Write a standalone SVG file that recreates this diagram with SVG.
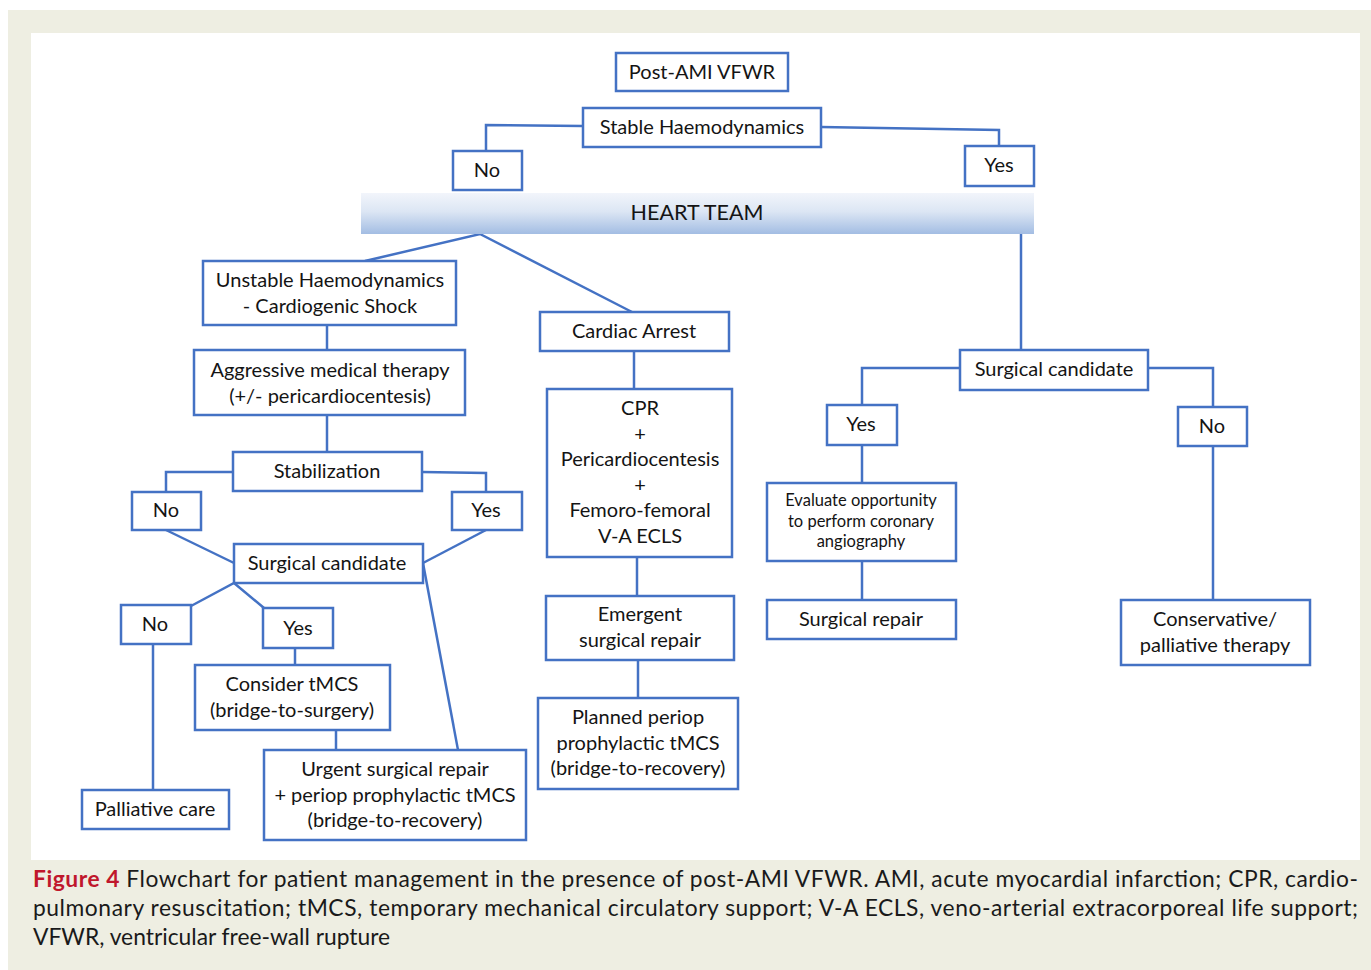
<svg xmlns="http://www.w3.org/2000/svg" width="1371" height="970" viewBox="0 0 1371 970">
<defs>
<linearGradient id="bar" x1="0" y1="0" x2="0" y2="1">
<stop offset="0" stop-color="#f2f5fb"/>
<stop offset="0.45" stop-color="#dce6f4"/>
<stop offset="1" stop-color="#a3bde3"/>
</linearGradient>
<style>
.box{fill:#ffffff;stroke:#4472c4;stroke-width:2.5}
.ln{fill:none;stroke:#4472c4;stroke-width:2.5}
.t{font-family:Lato,"Liberation Sans",sans-serif;font-size:20px;fill:#141414;text-anchor:middle}
.s{font-size:16.5px}
.cap{font-family:Lato,"Liberation Sans",sans-serif;font-size:22.8px;fill:#1a1a1a}
</style>
</defs>
<rect x="0" y="0" width="1371" height="970" fill="#ffffff"/>
<rect x="8" y="10" width="1363" height="960" fill="#eeeee2"/>
<rect x="31" y="33" width="1329" height="827" fill="#ffffff"/>

<g id="connectors">
<polyline class="ln" points="583,126 486,125 486,151"/>
<polyline class="ln" points="821,127 999,130 999,146"/>
<line class="ln" x1="1021" y1="234" x2="1021" y2="350"/>
<polyline class="ln" points="365,261 480,234 632,312"/>
<line class="ln" x1="327" y1="326" x2="327" y2="350"/>
<line class="ln" x1="327" y1="415" x2="327" y2="452"/>
<polyline class="ln" points="233,472 166,472 166,492"/>
<polyline class="ln" points="422,472 486,473 486,492"/>
<line class="ln" x1="166" y1="530" x2="234" y2="563"/>
<line class="ln" x1="486" y1="530" x2="423" y2="563"/>
<line class="ln" x1="423" y1="563" x2="458" y2="750"/>
<polyline class="ln" points="191,606 234,583 264,608"/>
<line class="ln" x1="153" y1="644" x2="153" y2="790"/>
<line class="ln" x1="295" y1="648" x2="295" y2="665"/>
<line class="ln" x1="336" y1="730" x2="336" y2="750"/>
<line class="ln" x1="634" y1="351" x2="634" y2="389"/>
<line class="ln" x1="637" y1="557" x2="637" y2="596"/>
<line class="ln" x1="638" y1="660" x2="638" y2="698"/>
<polyline class="ln" points="960,368 862,368 862,405"/>
<polyline class="ln" points="1148,368 1213,368 1213,407"/>
<line class="ln" x1="862" y1="445" x2="862" y2="483"/>
<line class="ln" x1="862" y1="561" x2="862" y2="600"/>
<line class="ln" x1="1213" y1="446" x2="1213" y2="600"/>
</g>

<g id="post-ami"><rect class="box" x="616" y="53" width="172" height="38"/><text class="t" x="702" y="79">Post-AMI VFWR</text></g>
<g id="stable"><rect class="box" x="583" y="108" width="238" height="39"/><text class="t" x="702" y="134">Stable Haemodynamics</text></g>
<g id="no-top"><rect class="box" x="453" y="151" width="69" height="39"/><text class="t" x="487" y="177">No</text></g>
<g id="yes-top"><rect class="box" x="965" y="146" width="69" height="40"/><text class="t" x="999" y="172">Yes</text></g>
<g id="heart-team"><rect x="361" y="193" width="673" height="41" fill="url(#bar)"/><text class="t" x="697" y="220" style="font-size:21.5px">HEART TEAM</text></g>

<g id="unstable"><rect class="box" x="203" y="261" width="253" height="64"/><text class="t" x="330" y="287">Unstable Haemodynamics</text><text class="t" x="330" y="313">- Cardiogenic Shock</text></g>
<g id="aggressive"><rect class="box" x="194" y="350" width="271" height="65"/><text class="t" x="330" y="377">Aggressive medical therapy</text><text class="t" x="330" y="403">(+/- pericardiocentesis)</text></g>
<g id="stabilization"><rect class="box" x="233" y="452" width="189" height="39"/><text class="t" x="327" y="478">Stabilization</text></g>
<g id="stab-no"><rect class="box" x="132" y="492" width="69" height="38"/><text class="t" x="166" y="517">No</text></g>
<g id="stab-yes"><rect class="box" x="452" y="492" width="70" height="38"/><text class="t" x="486" y="517">Yes</text></g>
<g id="surg-cand-left"><rect class="box" x="234" y="544" width="189" height="39"/><text class="t" x="327" y="570">Surgical candidate</text></g>
<g id="sc-no"><rect class="box" x="121" y="605" width="70" height="39"/><text class="t" x="155" y="631">No</text></g>
<g id="sc-yes"><rect class="box" x="263" y="608" width="70" height="40"/><text class="t" x="298" y="635">Yes</text></g>
<g id="consider"><rect class="box" x="195" y="665" width="195" height="65"/><text class="t" x="292" y="691">Consider tMCS</text><text class="t" x="292" y="717">(bridge-to-surgery)</text></g>
<g id="palliative"><rect class="box" x="82" y="790" width="147" height="39"/><text class="t" x="155" y="816">Palliative care</text></g>
<g id="urgent"><rect class="box" x="264" y="750" width="262" height="90"/><text class="t" x="395" y="776">Urgent surgical repair</text><text class="t" x="395" y="802">+ periop prophylactic tMCS</text><text class="t" x="395" y="827">(bridge-to-recovery)</text></g>

<g id="cardiac-arrest"><rect class="box" x="540" y="312" width="189" height="39"/><text class="t" x="634" y="338">Cardiac Arrest</text></g>
<g id="cpr"><rect class="box" x="547" y="389" width="185" height="168"/><text class="t" x="640" y="415">CPR</text><text class="t" x="640" y="441">+</text><text class="t" x="640" y="466">Pericardiocentesis</text><text class="t" x="640" y="492">+</text><text class="t" x="640" y="517">Femoro-femoral</text><text class="t" x="640" y="543">V-A ECLS</text></g>
<g id="emergent"><rect class="box" x="546" y="596" width="188" height="64"/><text class="t" x="640" y="621">Emergent</text><text class="t" x="640" y="647">surgical repair</text></g>
<g id="planned"><rect class="box" x="538" y="698" width="200" height="91"/><text class="t" x="638" y="724">Planned periop</text><text class="t" x="638" y="750">prophylactic tMCS</text><text class="t" x="638" y="775">(bridge-to-recovery)</text></g>

<g id="surg-cand-right"><rect class="box" x="960" y="350" width="188" height="40"/><text class="t" x="1054" y="376">Surgical candidate</text></g>
<g id="r-yes"><rect class="box" x="827" y="405" width="70" height="40"/><text class="t" x="861" y="431">Yes</text></g>
<g id="r-no"><rect class="box" x="1178" y="407" width="69" height="39"/><text class="t" x="1212" y="433">No</text></g>
<g id="evaluate"><rect class="box" x="767" y="483" width="189" height="78"/><text class="t s" x="861" y="506">Evaluate opportunity</text><text class="t s" x="861" y="527">to perform coronary</text><text class="t s" x="861" y="547">angiography</text></g>
<g id="surgical-repair"><rect class="box" x="767" y="600" width="189" height="39"/><text class="t" x="861" y="626">Surgical repair</text></g>
<g id="conservative"><rect class="box" x="1121" y="600" width="189" height="65"/><text class="t" x="1215" y="626">Conservative/</text><text class="t" x="1215" y="652">palliative therapy</text></g>

<g id="caption">
<text class="cap" x="33" y="887" textLength="1325" lengthAdjust="spacing"><tspan fill="#c0172c" font-weight="bold">Figure 4</tspan> Flowchart for patient management in the presence of post-AMI VFWR. AMI, acute myocardial infarction; CPR, cardio-</text>
<text class="cap" x="33" y="916" textLength="1325" lengthAdjust="spacing">pulmonary resuscitation; tMCS, temporary mechanical circulatory support; V-A ECLS, veno-arterial extracorporeal life support;</text>
<text class="cap" x="33" y="945">VFWR, ventricular free-wall rupture</text>
</g>
</svg>
